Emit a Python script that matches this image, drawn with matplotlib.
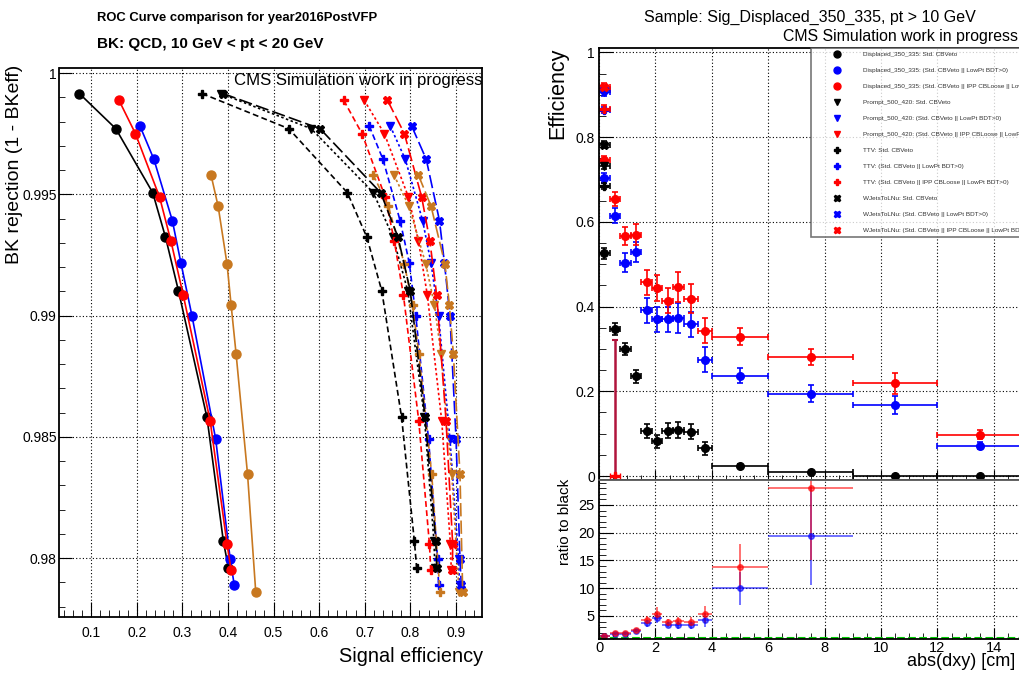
import matplotlib.pyplot as plt
from matplotlib.lines import Line2D
from matplotlib.ticker import MultipleLocator
import numpy as np

plt.rcParams['font.family'] = ['Liberation Sans', 'DejaVu Sans']

# ---------------- left pad: ROC curves ----------------
# background rejection of the working points, one list per selection
rej_std = [0.99916, 0.99771, 0.99507, 0.99324, 0.99102, 0.98580, 0.98069, 0.97960]
rej_lowpt = [0.99782, 0.99645, 0.99392, 0.99216, 0.99000, 0.98492, 0.97995, 0.97887]
rej_ipp = [0.99888, 0.99751, 0.99489, 0.99307, 0.99084, 0.98566, 0.98058, 0.97949]
rej_alt = [0.99579, 0.99451, 0.99213, 0.99043, 0.98840, 0.98346, 0.97860]

# signal efficiency per sample and selection
displaced_std = [0.074, 0.154, 0.235, 0.263, 0.2915, 0.354, 0.390, 0.401]
displaced_lowpt = [0.207, 0.2375, 0.278, 0.297, 0.321, 0.373, 0.405, 0.414]
displaced_ipp = [0.161, 0.197, 0.250, 0.275, 0.302, 0.361, 0.398, 0.407]
displaced_alt = [0.363, 0.3785, 0.398, 0.407, 0.418, 0.443, 0.461]

prompt_std = [0.384, 0.5825, 0.719, 0.762, 0.7945, 0.831, 0.852, 0.854]
prompt_lowpt = [0.756, 0.789, 0.827, 0.8456, 0.862, 0.887, 0.906, 0.908]
prompt_ipp = [0.699, 0.743, 0.796, 0.818, 0.8375, 0.869, 0.888, 0.890]
prompt_alt = [0.7645, 0.797, 0.834, 0.853, 0.8676, 0.891, 0.907]

ttv_std = [0.343, 0.5335, 0.662, 0.7046, 0.7375, 0.781, 0.809, 0.814]
ttv_lowpt = [0.710, 0.740, 0.7776, 0.798, 0.812, 0.840, 0.860, 0.862]
ttv_ipp = [0.654, 0.694, 0.745, 0.765, 0.785, 0.8186, 0.842, 0.845]
ttv_alt = [0.719, 0.752, 0.787, 0.805, 0.819, 0.847, 0.865]

wjets_std = [0.389, 0.602, 0.735, 0.773, 0.800, 0.8325, 0.856, 0.858]
wjets_lowpt = [0.803, 0.835, 0.864, 0.875, 0.887, 0.9004, 0.909, 0.912]
wjets_ipp = [0.750, 0.787, 0.825, 0.843, 0.858, 0.8785, 0.893, 0.8925]
wjets_alt = [0.818, 0.8456, 0.876, 0.8858, 0.8946, 0.909, 0.915]

# ---------------- right pad: efficiency vs |dxy| ----------------
dxy_edges = [0, 0.375, 0.75, 1.125, 1.5, 1.875, 2.25, 2.625, 3.0, 3.5, 4.0, 6.0, 9.0, 12.0, 15.0]
eff_std = [0.526, 0.347, 0.300, 0.235, 0.107, 0.082, 0.107, 0.109, 0.105, 0.065, 0.0237, 0.0100, 0.0008, 0.0006]
err_std = [0.013, 0.014, 0.014, 0.015, 0.017, 0.016, 0.018, 0.019, 0.018, 0.015, 0.004, 0.003, 0.001, 0.001]
eff_lowpt = [0.704, 0.615, 0.504, 0.529, 0.391, 0.370, 0.370, 0.373, 0.358, 0.275, 0.237, 0.194, 0.168, 0.072]
err_lowpt = [0.012, 0.018, 0.022, 0.023, 0.030, 0.030, 0.030, 0.035, 0.030, 0.030, 0.018, 0.020, 0.022, 0.008]
eff_ipp = [0.745, 0.654, 0.567, 0.570, 0.457, 0.444, 0.414, 0.447, 0.419, 0.343, 0.329, 0.281, 0.219, 0.098]
err_ipp = [0.010, 0.017, 0.022, 0.024, 0.030, 0.030, 0.030, 0.035, 0.035, 0.030, 0.020, 0.020, 0.025, 0.010]

# other samples only show up in the first bins (std, lowpt, ipp)
first_bin_prompt = [0.733, 0.906, 0.914]
first_bin_ttv = [0.685, 0.864, 0.867]
first_bin_wjets = [0.782, 0.912, 0.919]
ttv_second_bin = 0.0
ttv_second_bin_err = 0.321

ratio_lowpt = [1.34, 1.77, 1.68, 2.25, 3.66, 4.55, 3.46, 3.42, 3.41, 4.25, 10.0, 19.4]
ratio_lowpt_err = [0.10, 0.12, 0.15, 0.20, 0.60, 0.90, 0.50, 0.70, 0.70, 1.20, 3.0, 8.8]
ratio_ipp = [1.42, 1.88, 1.89, 2.43, 4.27, 5.41, 3.87, 4.10, 3.99, 5.28, 13.9, 28.0]
ratio_ipp_err = [0.10, 0.12, 0.15, 0.25, 0.70, 1.20, 0.60, 0.80, 0.80, 1.60, 4.0, 13.0]

ORANGE = '#c87820'
W, H = 1020, 675


def fig_box(x0, y0, x1, y1):
    # pixel box (top-left origin) -> figure fraction rect
    return [x0 / W, 1 - y1 / H, (x1 - x0) / W, (y1 - y0) / H]


def root_ticks(ax, major, minor, lmaj, lmin):
    ax.tick_params(which='both', direction='in', top=False, right=False)
    ax.tick_params(axis='x', which='major', length=lmaj[0])
    ax.tick_params(axis='x', which='minor', length=lmin[0])
    ax.tick_params(axis='y', which='major', length=lmaj[1])
    ax.tick_params(axis='y', which='minor', length=lmin[1])
    ax.xaxis.set_major_locator(MultipleLocator(major[0]))
    ax.xaxis.set_minor_locator(MultipleLocator(minor[0]))
    ax.yaxis.set_major_locator(MultipleLocator(major[1]))
    ax.yaxis.set_minor_locator(MultipleLocator(minor[1]))
    ax.grid(True, which='major', color='k', ls=(0, (1, 2)), lw=0.8)
    for s in ax.spines.values():
        s.set_linewidth(1.3)


fig = plt.figure(figsize=(W / 100, H / 100), dpi=100)

# ---- ROC pad ----
ax = fig.add_axes(fig_box(59.5, 68.3, 482.3, 616.7))
styles = {'-': '-', 'dot': (0, (1.5, 1.5)), 'dash': (0, (3.5, 2)), 'long': (0, (8, 2.5))}
groups = [
    ('o', '-', [displaced_std, displaced_lowpt, displaced_ipp, displaced_alt]),
    ('v', 'dot', [prompt_std, prompt_lowpt, prompt_ipp, prompt_alt]),
    ('P', 'dash', [ttv_std, ttv_lowpt, ttv_ipp, ttv_alt]),
    ('X', 'long', [wjets_std, wjets_lowpt, wjets_ipp, wjets_alt]),
]
rejs = [rej_std, rej_lowpt, rej_ipp, rej_alt]
colors = ['black', 'blue', 'red', ORANGE]
for marker, ls, effs in groups:
    for e, r, c in zip(effs, rejs, colors):
        ax.plot(e, r, color=c, ls=styles[ls], lw=1.2, marker=marker,
                ms=6.5 if marker == 'o' else 6, mec=c, mfc=c)

ax.set_xlim(0.0305, 0.958)
ax.set_ylim(0.97758, 1.0002)
root_ticks(ax, (0.1, 0.005), (0.02, 0.001), (11, 9), (5, 4.5))
ax.tick_params(axis='x', labelsize=10, pad=7)
ax.tick_params(axis='y', labelsize=10, pad=2)
ax.set_yticks([0.98, 0.985, 0.99, 0.995, 1.0], ['0.98', '0.985', '0.99', '0.995', '1'])

fig.text(97 / W, 1 - 18 / H, 'ROC Curve comparison for year2016PostVFP',
         fontsize=9.4, fontweight='bold', ha='left', va='center')
fig.text(97 / W, 1 - 44 / H, 'BK: QCD, 10 GeV < pt < 20 GeV',
         fontsize=11, fontweight='bold', ha='left', va='center')
fig.text(483 / W, 1 - 80 / H, 'CMS Simulation work in progress',
         fontsize=12.1, ha='right', va='center')
fig.text(15 / W, 1 - 65 / H, 'BK rejection (1 - BKeff)', fontsize=14,
         rotation=90, ha='center', va='top')
fig.text(483 / W, 1 - 657 / H, 'Signal efficiency', fontsize=14.3,
         ha='right', va='center')

# ---- efficiency pad ----
edges = np.array(dxy_edges)
centers = 0.5 * (edges[:-1] + edges[1:])
half = 0.5 * (edges[1:] - edges[:-1])

x_right = 599 + 28.2 * 16
ax1 = fig.add_axes(fig_box(599, 47.7, x_right, 480))
ax2 = fig.add_axes(fig_box(599, 480, x_right, 639))

ebar = dict(fmt='o', ms=5.5, elinewidth=1.2, capsize=2, capthick=1.2)
ax1.errorbar(centers, eff_std, yerr=err_std, xerr=half, color='black', **ebar)
ax1.errorbar(centers, eff_lowpt, yerr=err_lowpt, xerr=half, color='blue', **ebar)
ax1.errorbar(centers, eff_ipp, yerr=err_ipp, xerr=half, color='red', **ebar)

for vals, marker in [(first_bin_prompt, 'v'), (first_bin_ttv, 'P'), (first_bin_wjets, 'X')]:
    for v, c in zip(vals, ['black', 'blue', 'red']):
        ax1.errorbar(centers[0], v, yerr=0.008, xerr=half[0], color=c, fmt=marker,
                     ms=5.5, elinewidth=1.2, capsize=2, capthick=1.2)

ax1.errorbar(centers[1], ttv_second_bin, yerr=[[0], [ttv_second_bin_err]], fmt='none',
             ecolor='#b0143c', elinewidth=1.8, capsize=2, capthick=1.5)
ax1.errorbar(centers[1], ttv_second_bin, xerr=half[1], fmt='P', color='red', ms=6,
             elinewidth=1.2, capsize=2)

ax1.set_xlim(0, 16)
ax1.set_ylim(-0.0094, 1.0113)
root_ticks(ax1, (2, 0.2), (0.5, 0.05), (7, 10), (3.5, 5))
ax1.tick_params(axis='x', labelbottom=False)
ax1.tick_params(axis='y', labelsize=10, pad=3)
ax1.set_yticks([0, 0.2, 0.4, 0.6, 0.8, 1.0], ['0', '0.2', '0.4', '0.6', '0.8', '1'])

handles = []
labels = []
names = ['Displaced_350_335', 'Prompt_500_420', 'TTV', 'WJetsToLNu']
sels = ['Std. CBVeto', '(Std. CBVeto || LowPt BDT>0)', '(Std. CBVeto || IPP CBLoose || LowPt BDT>0)']
for name, marker in zip(names, ['o', 'v', 'P', 'X']):
    for sel, c in zip(sels, ['black', 'blue', 'red']):
        handles.append(Line2D([], [], ls='none', marker=marker, color=c, ms=5))
        labels.append(f'{name}: {sel}')
leg = ax1.legend(handles, labels, loc='upper left', bbox_to_anchor=(811 / W, 1 - 48 / H),
                 bbox_transform=fig.transFigure, fontsize=4.6, frameon=True,
                 fancybox=False, edgecolor='#555555', borderpad=0.6, handlelength=6.9,
                 handletextpad=0.6, labelspacing=1.65, borderaxespad=0, labelcolor='#333333')
leg.get_frame().set_linewidth(1.2)
leg.set_zorder(10)

fig.text(810 / W, 1 - 17 / H, 'Sample: Sig_Displaced_350_335, pt > 10 GeV',
         fontsize=11.5, ha='center', va='center')
fig.text(1018 / W, 1 - 37 / H, 'CMS Simulation work in progress',
         fontsize=11.4, ha='right', va='center')
fig.text(558 / W, 1 - 48 / H, 'Efficiency', fontsize=15.5, rotation=90,
         ha='center', va='top')

# ---- ratio pad ----
n = len(ratio_ipp)
rbar = dict(fmt='o', ms=4, elinewidth=1.3, alpha=0.6)
ax2.errorbar(centers[:n], ratio_lowpt, yerr=ratio_lowpt_err, xerr=half[:n], color='blue', **rbar)
ax2.errorbar(centers[:n], ratio_ipp, yerr=ratio_ipp_err, xerr=half[:n], color='red', **rbar)
ax2.axhline(1, color='#00cc00', ls='--', lw=1.5)

ax2.set_xlim(0, 16)
ax2.set_ylim(0.856, 29.5)
root_ticks(ax2, (2, 5), (0.5, 1), (8, 10), (4, 5))
ax2.tick_params(axis='both', labelsize=10.5)
ax2.tick_params(axis='x', pad=1.5)
ax2.tick_params(axis='y', pad=3)
ax2.set_yticks([5, 10, 15, 20, 25])
ax2.spines['top'].set_color('#555555')
ax1.spines['bottom'].set_color('#555555')

fig.text(565 / W, 1 - 479 / H, 'ratio to black', fontsize=11, rotation=90,
         ha='center', va='top')
fig.text(1015 / W, 1 - 662 / H, 'abs(dxy) [cm]', fontsize=13, ha='right', va='center')

fig.savefig('out.png', dpi=100)
